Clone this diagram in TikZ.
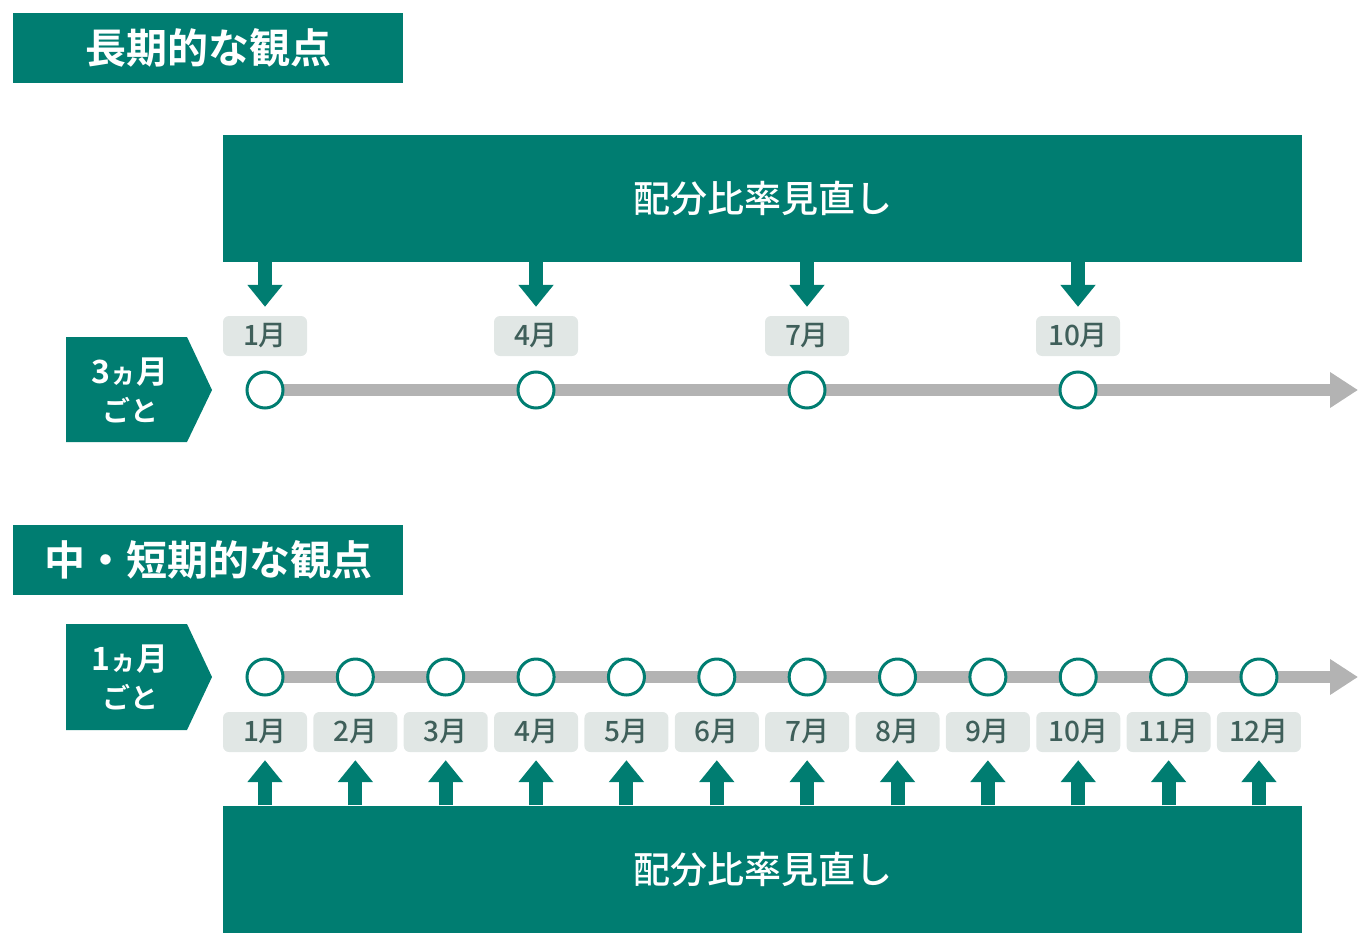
\documentclass[tikz,border=0pt]{standalone}
\usepackage{fontspec}
\newfontfamily\jp{Noto Sans CJK JP Medium}
\newfontfamily\jpb{Noto Sans CJK JP Bold}
\usetikzlibrary{arrows.meta,calc}
\definecolor{teal1}{HTML}{007D71}
\definecolor{lblbg}{HTML}{E1E7E5}
\definecolor{lbltx}{HTML}{3F5F5A}
\definecolor{lgray}{HTML}{B3B3B3}
\begin{document}
\begin{tikzpicture}[x=1pt,y=-1pt,
 title/.style={fill=teal1,text=white,minimum width=390pt,minimum height=70pt,inner sep=0,font=\jpb\fontsize{41}{41}\selectfont},
 bigbox/.style={fill=teal1,text=white,minimum width=1079pt,minimum height=127pt,inner sep=0,font=\jp\fontsize{37}{37}\selectfont},
 lbl/.style={fill=lblbg,text=lbltx,rounded corners=6pt,minimum width=84pt,minimum height=40pt,inner sep=0,font=\jp\fontsize{28}{28}\selectfont},
 dot/.style={circle,draw=teal1,line width=3pt,fill=white,minimum size=36pt,inner sep=0},
 tl/.style={lgray,line width=12pt,-{Triangle[width=34pt,length=28pt]}},
 arr/.style={teal1,line width=14pt,-{Triangle[width=34pt,length=22pt]}},
 tagtx/.style={text=white,font=\jpb\fontsize{32}{32}\selectfont,inner sep=0}]
\useasboundingbox (0,0) rectangle (1370,950);
% top
\node[title] (t1) at (208,48) {長期的な観点};
\node[bigbox] (b1) at (762.5,198.5) {配分比率見直し};
\fill[teal1] (66,337) -- (187,337) -- (212,390) -- (187,442) -- (66,442) -- cycle;
\node[tagtx] (g1a) at (130,372) {3{\fontsize{26}{26}\selectfont ヵ}月};
\node[tagtx] (g1b) at (130,410) {\fontsize{28}{28}\selectfont ごと};
\coordinate (e1) at (1358,390);
\coordinate (s1) at (265,390);
\draw[tl] (s1) -- (e1);
\foreach \x/\m [count=\i] in {265/1,536/4,807/7,1078/10}{
  \node[dot] (d1\i) at (\x,390) {};
  \node[lbl] (l1\i) at (\x,336) {\m 月};
  \draw[arr] (b1.south -| l1\i) -- ($(l1\i.north)+(0,-9)$);
}
% bottom
\node[title] (t2) at (208,560) {中・短期的な観点};
\node[bigbox] (b2) at (762.5,869) {配分比率見直し};
\fill[teal1] (66,624) -- (187,624) -- (212,677) -- (187,730) -- (66,730) -- cycle;
\node[tagtx] (g2a) at (130,659) {1{\fontsize{26}{26}\selectfont ヵ}月};
\node[tagtx] (g2b) at (130,697) {\fontsize{28}{28}\selectfont ごと};
\coordinate (e2) at (1358,677);
\coordinate (s2) at (265,677);
\draw[tl] (s2) -- (e2);
\foreach \i in {1,...,12}{
  \pgfmathsetmacro\x{265+90.36*(\i-1)}
  \node[dot] (d2\i) at (\x,677) {};
  \node[lbl] (l2\i) at (\x,732) {\i 月};
  \draw[arr] (b2.north -| l2\i) -- ($(l2\i.south)+(0,8)$);
}
\end{tikzpicture}
\end{document}
